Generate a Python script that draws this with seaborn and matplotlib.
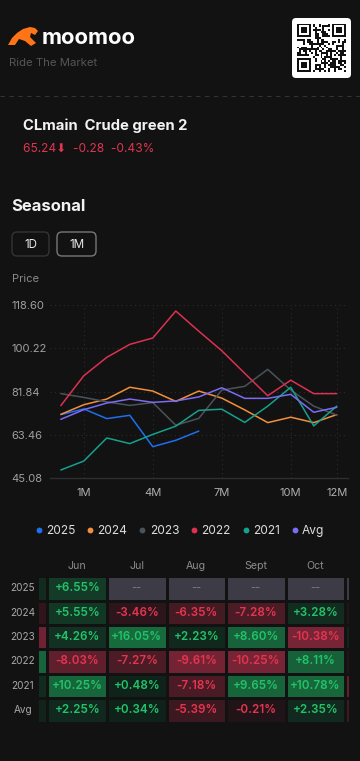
import numpy as np
import pandas as pd
import seaborn as sns
import matplotlib
matplotlib.use('Agg')
import matplotlib.pyplot as plt
from matplotlib.colors import LinearSegmentedColormap, ListedColormap
from matplotlib.lines import Line2D
from matplotlib.patches import FancyBboxPatch, Polygon

# seasonal price path, months 0..12
months = list(range(13))
price_2025 = [72.1, 74.5, 70.4, 71.8, 58.5, 61.2, 65.1] + [np.nan] * 6
price_2024 = [72.2, 76.3, 78.7, 83.7, 82.1, 77.7, 82.1, 79.1, 74.1, 68.7, 71.0, 68.7, 72.1]
price_2023 = [81.0, 79.4, 77.5, 76.0, 77.2, 67.6, 70.5, 82.5, 84.1, 91.3, 82.5, 75.7, 71.9]
price_2022 = [75.9, 88.6, 96.4, 101.9, 104.6, 116.05, 107.5, 99.2, 89.6, 80.1, 86.7, 81.0, 81.0]
price_2021 = [48.6, 52.4, 62.2, 59.8, 63.7, 67.2, 73.9, 74.4, 68.8, 75.7, 83.7, 67.3, 75.7]
price_avg = [70.1, 74.2, 77.0, 78.7, 77.3, 77.9, 79.6, 83.5, 79.0, 79.0, 80.7, 73.1, 75.2]

series_names = ['2025', '2024', '2023', '2022', '2021', 'Avg']
series_colors = ['#1f6ff2', '#f28f3b', '#4b5359', '#dc3150', '#15a18d', '#7a6cf5']
y_ticks = [45.08, 63.46, 81.84, 100.22, 118.60]
x_ticks = [1, 4, 7, 10, 12]
x_labels = ['1M', '4M', '7M', '10M', '12M']

# monthly change table; May and Nov are scrolled half out of view (estimated from colour)
table_rows = ['2025', '2024', '2023', '2022', '2021', 'Avg']
table_cols = ['May', 'Jun', 'Jul', 'Aug', 'Sept', 'Oct', 'Nov']
chg_may = [3.0, -4.0, -9.0, 9.0, 3.0, 1.0]
chg_jun = [6.55, 5.55, 4.26, -8.03, 10.25, 2.25]
chg_jul = [np.nan, -3.46, 16.05, -7.27, 0.48, 0.34]
chg_aug = [np.nan, -6.35, 2.23, -9.61, -7.18, -5.39]
chg_sep = [np.nan, -7.28, 8.60, -10.25, 9.65, -0.21]
chg_oct = [np.nan, 3.28, -10.38, 8.11, 10.78, 2.35]
chg_nov = [np.nan, -1.0, 1.0, -1.0, -8.0, -6.0]

BG = '#121212'
W, H = 360, 761

sns.set_style('dark')
plt.rcParams['font.family'] = ['Inter', 'DejaVu Sans']
plt.rcParams['figure.facecolor'] = BG
plt.rcParams['axes.facecolor'] = BG

fig = plt.figure(figsize=(W / 100, H / 100), dpi=100)


def axes_px(l, t, r, b):
    return fig.add_axes([l / W, 1 - b / H, (r - l) / W, (b - t) / H])


def ftext(x, y, s, **kw):
    fig.text(x / W, 1 - y / H, s, **kw)


def rbox(x0, y0, x1, y1, r=0.05, **kw):
    p = FancyBboxPatch((x0 / 100, (H - y1) / 100), (x1 - x0) / 100, (y1 - y0) / 100,
                       boxstyle=f'round,pad=0,rounding_size={r}',
                       transform=fig.dpi_scale_trans, zorder=-1, **kw)
    fig.add_artist(p)


# header: logo, slogan, qr
logo = [(8, 45), (12, 38), (17, 33), (23, 29), (30, 27), (35, 28), (38, 31), (35, 35),
        (31, 33), (30, 37), (36, 43), (31, 46), (25, 41), (19, 39), (15, 45)]
fig.add_artist(Polygon([(x / 100, (H - y) / 100) for x, y in logo], closed=True,
                       facecolor='#ff7417', edgecolor='none', transform=fig.dpi_scale_trans))
ftext(41.5, 43.5, 'moomoo', color='white', fontsize=15.8, fontweight='bold', va='baseline')
ftext(9, 66.5, 'Ride The Market', color='#555555', fontsize=8.2, va='baseline')

rbox(292, 18, 351, 78, r=0.04, facecolor='white', edgecolor='none')
n = 25
qr = np.zeros((n, n), dtype=int)
bits = ''.join(f'{b:08b}' for b in b'moomoo CLmain seasonal ride the market' * 20)
k = 0
for i in range(n):
    for j in range(n):
        qr[i, j] = int(bits[k]) ^ ((i * j) % 3 == 0)
        k += 1
for r0, c0 in [(0, 0), (0, n - 7), (n - 7, 0)]:
    qr[max(r0 - 1, 0):r0 + 8, max(c0 - 1, 0):c0 + 8] = 0
    qr[r0:r0 + 7, c0:c0 + 7] = 1
    qr[r0 + 1:r0 + 6, c0 + 1:c0 + 6] = 0
    qr[r0 + 2:r0 + 5, c0 + 2:c0 + 5] = 1
qax = axes_px(297, 23, 346, 73)
qax.set_zorder(3)
qax.imshow(qr, cmap=ListedColormap(['white', '#111111']), interpolation='nearest')
qax.axis('off')

fig.add_artist(Line2D([0, 1], [1 - 96 / H] * 2, color='#333333', linewidth=0.8,
                      linestyle=(0, (4, 4))))

ftext(23, 130, 'CLmain  Crude green 2', color='#f2f2f2', fontsize=10.7, fontweight='bold',
      va='baseline')
ftext(23, 151.5, '65.24\u2b07  -0.28  -0.43%', color='#e0344f', fontsize=8.6, va='baseline')

ftext(11, 211, 'Seasonal', color='#f2f2f2', fontsize=12, fontweight='bold', va='baseline')
rbox(12, 232, 49, 256, r=0.05, facecolor='none', edgecolor='#343434', linewidth=1)
rbox(57, 232, 96, 256, r=0.05, facecolor='none', edgecolor='#777777', linewidth=1)
ftext(30.5, 244.5, '1D', color='#e8e8e8', fontsize=8.4, ha='center', va='center')
ftext(76.5, 244.5, '1M', color='#e8e8e8', fontsize=8.4, ha='center', va='center')
ftext(12, 282, 'Price', color='#8a8a8a', fontsize=8, va='baseline')

# line chart
df = pd.DataFrame({
    'month': months * 6,
    'price': price_2025 + price_2024 + price_2023 + price_2022 + price_2021 + price_avg,
    'year': [s for s in series_names for _ in months],
})
ax = axes_px(50, 305, 348, 478.3)
sns.lineplot(data=df, x='month', y='price', hue='year', hue_order=series_names,
             palette=dict(zip(series_names, series_colors)), linewidth=1.1,
             legend=False, ax=ax)
ax.set_xlim(-0.47, 12.49)
ax.set_ylim(y_ticks[0], y_ticks[-1])
ax.set_yticks(y_ticks)
ax.set_yticklabels([f'{v:.2f}' for v in y_ticks])
ax.set_xticks(x_ticks)
ax.set_xticklabels(x_labels)
ax.set_xlabel('')
ax.set_ylabel('')
ax.grid(False)
for v in y_ticks[1:]:
    ax.axhline(v, color='#2c2c2c', linewidth=0.8, linestyle=(0, (1, 3)), zorder=0)
for v in x_ticks:
    ax.axvline(v, color='#2c2c2c', linewidth=0.8, linestyle=(0, (1, 3)), zorder=0)
for s in ['top', 'right', 'left']:
    ax.spines[s].set_visible(False)
ax.spines['bottom'].set_visible(True)
ax.spines['bottom'].set_color('#2e2e2e')
ax.spines['bottom'].set_linewidth(1)
ax.tick_params(axis='y', length=0, pad=27.5, labelsize=8, labelcolor='#a0a0a0')
for lbl in ax.get_yticklabels():
    lbl.set_ha('left')
ax.tick_params(axis='x', length=0, pad=7, labelsize=8, labelcolor='#b0b0b0')

handles = [Line2D([], [], marker='o', linestyle='', markersize=4.2, color=c,
                  markeredgewidth=0) for c in series_colors]
fig.legend(handles, series_names, loc='center', bbox_to_anchor=(0.5, 1 - 531 / H), ncol=6,
           frameon=False, handlelength=0.5, handletextpad=0.35, columnspacing=1.0,
           fontsize=8.6, labelcolor='#dddddd')

# change table
chg = pd.DataFrame(np.array([chg_may, chg_jun, chg_jul, chg_aug, chg_sep, chg_oct, chg_nov]).T,
                   index=table_rows, columns=table_cols)
labels = chg.map(lambda v: '' if np.isnan(v) else f'{v:+.2f}%')
labels[['May', 'Nov']] = ''
nodes = [(-12, '#7f2538'), (-8.5, '#6e2233'), (-7.5, '#4d1c26'), (-3.5, '#2c151b'),
         (-0.01, '#201418'), (0.01, '#0f2119'), (2.5, '#11291e'), (6.6, '#143b27'),
         (8, '#17603a'), (12, '#176a3c')]
cmap = LinearSegmentedColormap.from_list('chg', [((v + 12) / 24, c) for v, c in nodes])
missing = chg.isna()
hm_kw = dict(cmap=cmap, vmin=-12, vmax=12, cbar=False, linewidths=2, linecolor=BG,
             fmt='', xticklabels=table_cols, yticklabels=table_rows)
tax = axes_px(39, 576.1, 349, 722.5)
sns.heatmap(chg, mask=(chg < 0) | missing, annot=labels.values, ax=tax,
            annot_kws=dict(color='#22c36a', fontsize=8.4, fontweight='semibold'), **hm_kw)
sns.heatmap(chg, mask=(chg >= 0) | missing, annot=labels.values, ax=tax,
            annot_kws=dict(color='#e6344f', fontsize=8.4, fontweight='semibold'), **hm_kw)
gray = chg.where(missing, np.nan).fillna(0).where(missing)
hm_kw['cmap'] = ListedColormap(['#3c3b46'])
sns.heatmap(gray, mask=~missing, annot=np.where(missing & (chg.columns != 'Nov'), '--', ''),
            ax=tax, annot_kws=dict(color='#7c7b86', fontsize=8), **hm_kw)
tax.set_xlim(1 - 8.5 / 59.5, 1 + (349 - 47.5) / 59.5)
tax.xaxis.tick_top()
tax.set_xlabel('')
tax.set_ylabel('')
tax.tick_params(axis='x', length=0, pad=4, labelsize=7.6, labelcolor='#8c8c8c')
tax.tick_params(axis='y', length=0, pad=11.5, labelsize=7.2, labelcolor='#a8a8a8', rotation=0)
for lbl in tax.get_yticklabels():
    lbl.set_ha('center')

fig.savefig('out.png', dpi=100, facecolor=BG)
